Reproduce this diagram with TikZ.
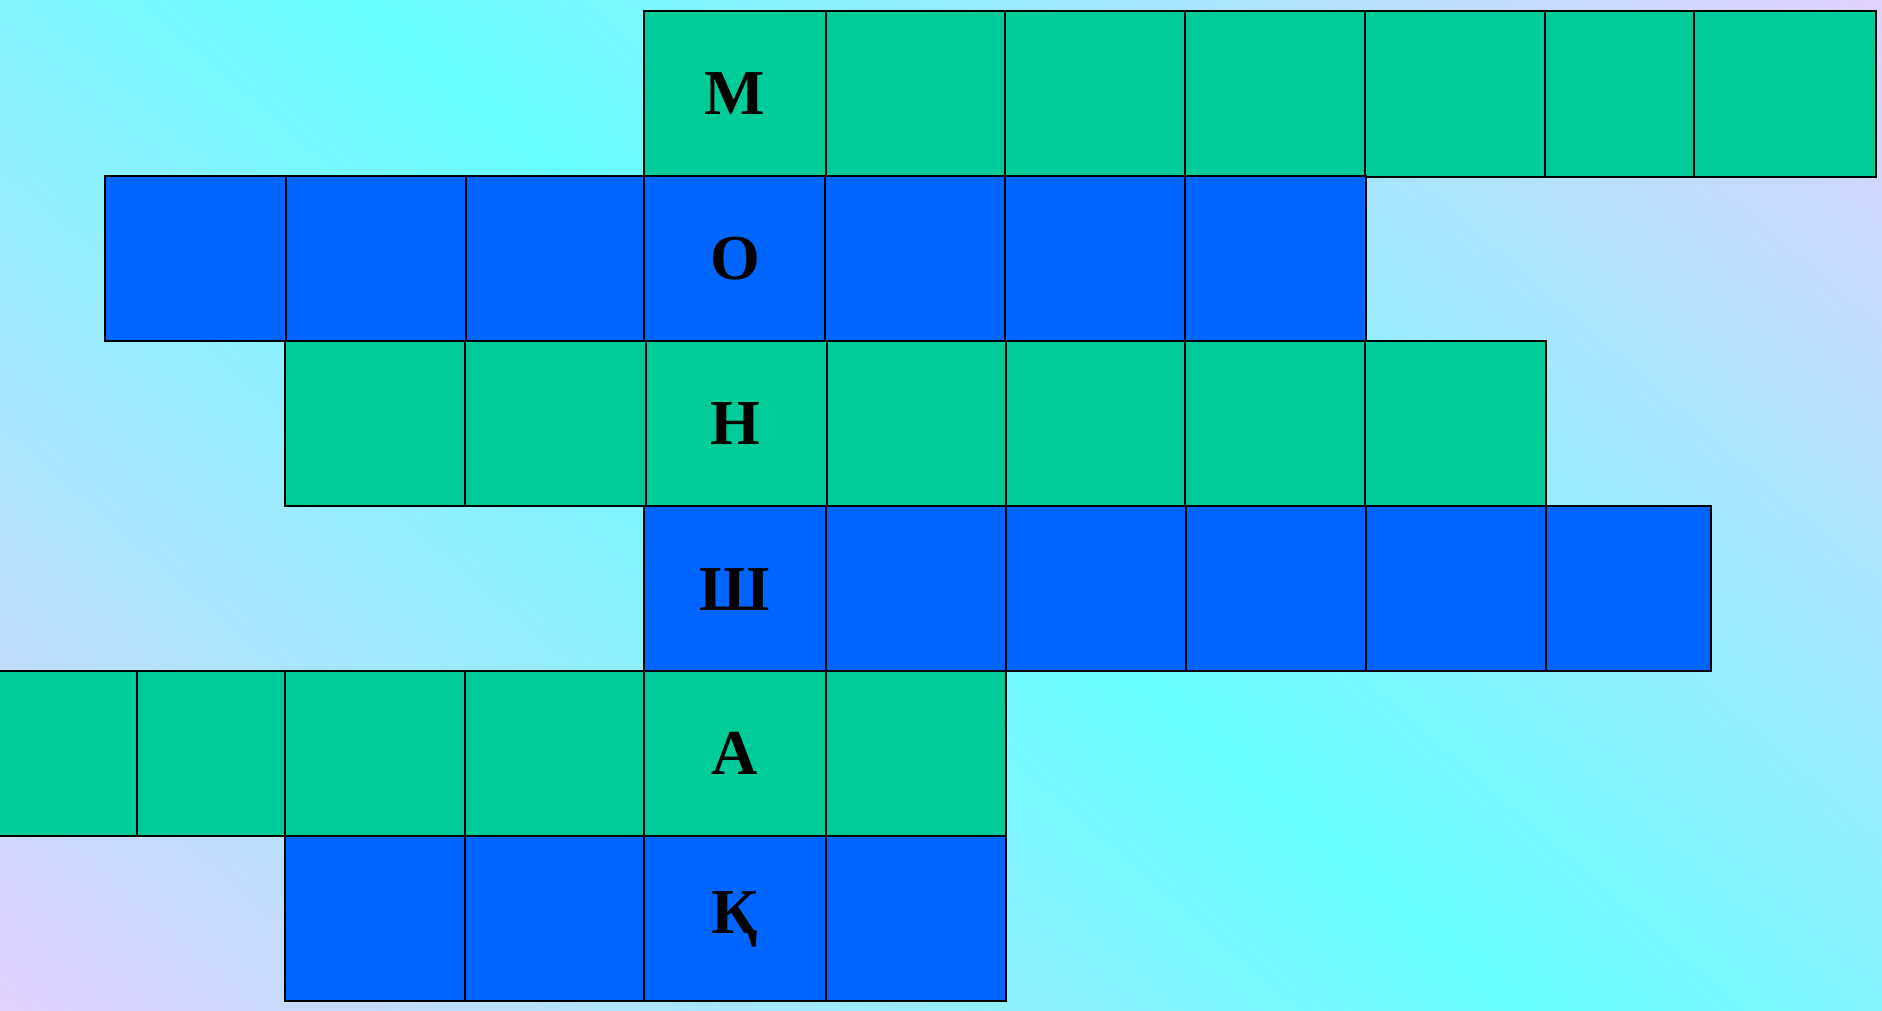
\documentclass[tikz,border=0pt]{standalone}
\usepackage{fontspec}
\setmainfont{Liberation Serif}
\definecolor{gcol}{HTML}{00CC99}
\definecolor{bcol}{HTML}{0066FF}
\definecolor{cyanbg}{HTML}{66FFFF}
\definecolor{lavbg}{HTML}{EECCFF}
\tikzset{
  gcell/.style={fill=gcol, draw=black, line width=1.8pt},
  bcell/.style={fill=bcol, draw=black, line width=1.8pt},
  letter/.style={font=\fontsize{64}{64}\selectfont\bfseries, inner sep=0pt, text=black},
}
\begin{document}
\begin{tikzpicture}[x=1pt, y=-1pt]
\useasboundingbox (0,0) rectangle (1882,1010);
\begin{scope}
\clip (0,0) rectangle (1882,1010);
\shade[left color=lavbg, right color=lavbg, middle color=cyanbg, shading angle=-41]
  (-159,-595) rectangle (2041,1605);
% row 1 (green)
\foreach \a/\b in {644/826, 826/1005, 1005/1185, 1185/1365, 1365/1545, 1545/1727, 1694/1876}
  \draw[gcell] (\a,11) rectangle (\b,177);
% row 2 (blue)
\foreach \a/\b in {105/286, 286/466, 466/644, 644/825, 825/1005, 1005/1185, 1185/1366}
  \draw[bcell] (\a,176) rectangle (\b,341);
% row 3 (green)
\foreach \a/\b in {285/465, 465/646, 646/827, 827/1006, 1006/1185, 1185/1365, 1365/1546}
  \draw[gcell] (\a,341) rectangle (\b,506);
% row 4 (blue)
\foreach \a/\b in {644/826, 826/1006, 1006/1186, 1186/1366, 1366/1546, 1546/1711}
  \draw[bcell] (\a,506) rectangle (\b,671);
% row 5 (green)
\foreach \a/\b in {-10/137, 137/285, 285/465, 465/644, 644/826, 826/1006}
  \draw[gcell] (\a,671) rectangle (\b,836);
% row 6 (blue)
\foreach \a/\b in {285/465, 465/644, 644/826, 826/1006}
  \draw[bcell] (\a,836) rectangle (\b,1001);
\end{scope}
% letters
\node[letter] (l1) at (735,94) {М};
\node[letter] (l2) at (735,258.5) {О};
\node[letter] (l3) at (735,423.5) {Н};
\node[letter] (l4) at (735,590) {Ш};
\node[letter] (l5) at (735,753.5) {А};
\node[letter] (l6) at (735,919) {Қ};
\end{tikzpicture}
\end{document}
